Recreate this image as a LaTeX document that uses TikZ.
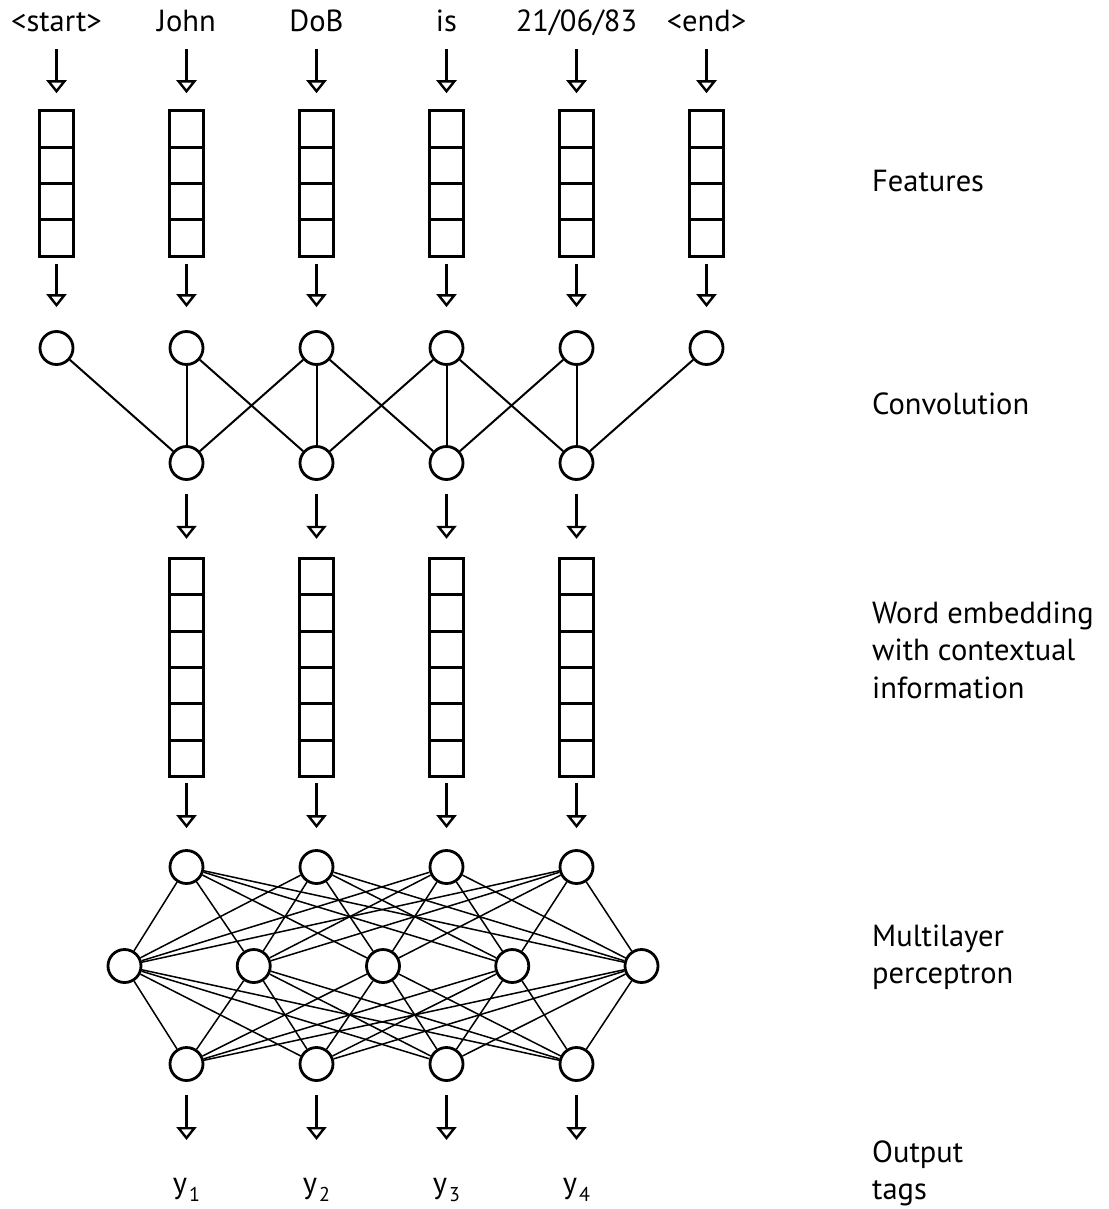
\documentclass[tikz,border=0pt]{standalone}
\usepackage{fontspec}
\setmainfont{PT Sans}
\usetikzlibrary{arrows.meta,calc}
\tikzset{
  txt/.style={inner sep=0pt,font=\fontsize{30.5}{36}\selectfont},
  word/.style={txt,anchor=base},
  lab/.style={txt,anchor=base west},
  neuron/.style={circle,draw,line width=2.8pt,minimum size=33pt,inner sep=0pt,fill=white},
  flow/.style={line width=2.6pt,-{Triangle[open,length=13pt,width=20pt,line width=2.4pt]}},
  conv/.style={line width=2pt},
  dense/.style={line width=1.5pt},
  cellbox/.style={draw,line width=3pt,inner sep=0pt,minimum width=34.5pt,minimum height=#1*36.4pt,
    path picture={\foreach \k in {1,...,#1}{
      \draw[line width=3pt] ($(path picture bounding box.north west)!\k/#1!(path picture bounding box.south west)$) --
        ($(path picture bounding box.north east)!\k/#1!(path picture bounding box.south east)$);}}}
}
\begin{document}
\begin{tikzpicture}[x=1pt,y=1pt]
\useasboundingbox (0,0) rectangle (1108,-1209);
% input words
\node[word] (w0) at (56.5,-32) {<start>};
\node[word] (w1) at (186.5,-32) {John};
\node[word] (w2) at (316.5,-32) {DoB};
\node[word] (w3) at (446.5,-32) {is};
\node[word] (w4) at (576.5,-32) {21/06/83};
\node[word] (w5) at (706.5,-32) {<end>};
\foreach \k in {0,...,5}{
  \pgfmathsetmacro\xx{56.5+130*\k}
  \node[cellbox=4] (f\k) at (\xx,-183.5) {};
  \node[neuron] (c\k) at (\xx,-348) {};
  \draw[flow] ([yshift=-17.5pt]w\k.base) -- ([yshift=16pt]f\k.north);
  \draw[flow] ([yshift=-6pt]f\k.south) -- ([yshift=23pt]c\k.north);
}
\foreach \k in {1,...,4}{
  \pgfmathsetmacro\xx{56.5+130*\k}
  \node[neuron] (d\k) at (\xx,-463) {};
  \node[cellbox=6] (e\k) at (\xx,-667.5) {};
  \node[neuron] (m\k) at (\xx,-867) {};
  \node[neuron] (o\k) at (\xx,-1064) {};
  \draw[flow] ([yshift=-13pt]d\k.south) -- ([yshift=18pt]e\k.north);
  \draw[flow] ([yshift=-5pt]e\k.south) -- ([yshift=21pt]m\k.north);
}
\foreach \j in {0,...,4}{
  \pgfmathsetmacro\xx{124.5+129.25*\j}
  \node[neuron] (h\j) at (\xx,-966) {};
}
% convolution connections
\foreach \j in {1,...,4}{
  \pgfmathtruncatemacro\a{\j-1}
  \pgfmathtruncatemacro\b{\j+1}
  \foreach \i in {\a,\j,\b}{
    \draw[conv] (c\i) -- (d\j);
  }
}
% MLP connections
\foreach \i in {1,...,4}{
  \foreach \j in {0,...,4}{
    \draw[dense] (m\i) -- (h\j);
    \draw[dense] (h\j) -- (o\i);
  }
}
% outputs
\node[word] (y1) at (186.5,-1193) {y\hspace{2pt}\raisebox{-8pt}{\fontsize{20}{20}\selectfont 1}};
\node[word] (y2) at (316.5,-1193) {y\hspace{2pt}\raisebox{-8pt}{\fontsize{20}{20}\selectfont 2}};
\node[word] (y3) at (446.5,-1193) {y\hspace{2pt}\raisebox{-8pt}{\fontsize{20}{20}\selectfont 3}};
\node[word] (y4) at (576.5,-1193) {y\hspace{2pt}\raisebox{-8pt}{\fontsize{20}{20}\selectfont 4}};
\foreach \k in {1,...,4}{
  \draw[flow] ([yshift=-13pt]o\k.south) -- ([yshift=53pt]y\k.base);
}
% layer labels
\node[lab] (l1) at (872,-191) {Features};
\node[lab] (l2) at (872,-414) {Convolution};
\node[lab] (l3a) at (872,-623) {Word embedding};
\node[lab] (l3b) at (872,-660.5) {with contextual};
\node[lab] (l3c) at (872,-698) {information};
\node[lab] (l4a) at (872,-946) {Multilayer};
\node[lab] (l4b) at (872,-983.5) {perceptron};
\node[lab] (l5a) at (872,-1162) {Output};
\node[lab] (l5b) at (872,-1199.5) {tags};
\end{tikzpicture}
\end{document}
